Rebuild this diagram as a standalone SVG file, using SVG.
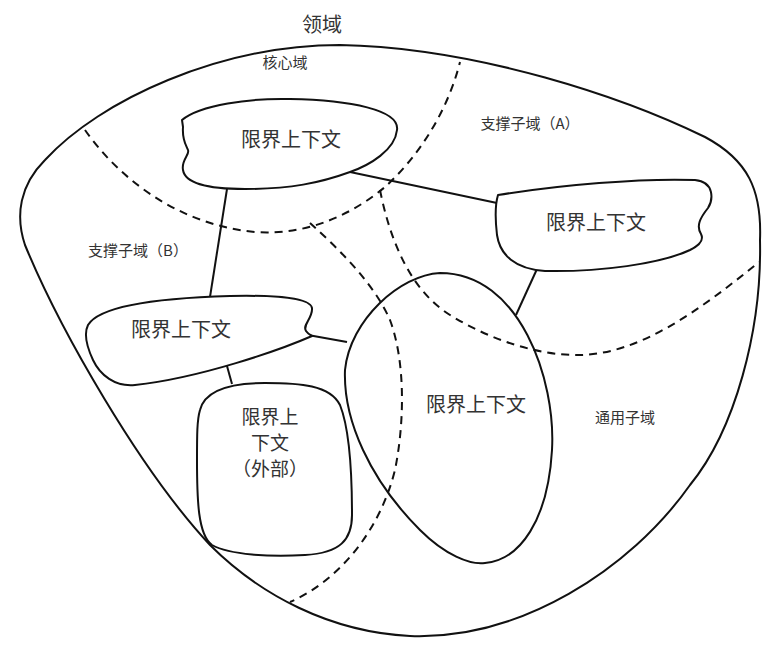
<svg xmlns="http://www.w3.org/2000/svg" width="782" height="654" viewBox="0 0 782 654">
<style>
.shape{fill:none;stroke:#111;stroke-width:2;stroke-linejoin:round}
.bc{fill:#fff;stroke:#111;stroke-width:2;stroke-linejoin:round}
.dash{fill:none;stroke:#111;stroke-width:2;stroke-dasharray:8 6}
.link{fill:none;stroke:#111;stroke-width:2}
.t{font-family:"Noto Sans CJK SC","Noto Sans",sans-serif;fill:#333;text-anchor:middle}
.big{font-size:20px}
.mid{font-size:19px}
.lbl{font-size:15px}
</style>
<rect width="782" height="654" fill="#fff"/>
<g id="domain">
<path class="shape" d="M 340,45 C 480,48 625,98 705,137 C 748,160 762,190 760,240 C 762,330 735,430 690,485 C 630,570 520,640 410,636 C 330,632 260,595 210,545 C 140,470 60,330 25,245 C 15,215 20,185 45,160 C 100,100 220,45 340,45 Z"/>
<text class="t big" x="322" y="32">领域</text>
</g>
<g id="subdomains">
<path class="dash" d="M 85,130 C 120,180 180,225 255,232 C 310,236 355,212 385,187 C 420,155 448,110 460,62"/>
<path class="dash" d="M 310,223 C 340,250 375,285 390,320 C 405,360 405,420 395,470 C 380,530 340,580 290,602"/>
<path class="dash" d="M 380,190 C 390,240 410,290 450,315 C 490,340 540,356 580,355 C 640,354 700,310 759,262"/>
<text class="t lbl" x="285" y="68">核心域</text>
<text class="t lbl" x="530" y="129">支撑子域（A）</text>
<text class="t lbl" x="138" y="256">支撑子域（B）</text>
<text class="t lbl" x="625" y="423">通用子域</text>
</g>
<g id="connectors">
<line class="link" x1="227" y1="189" x2="210" y2="297"/>
<line class="link" x1="350" y1="172" x2="497" y2="203"/>
<line class="link" x1="537" y1="269" x2="516" y2="315"/>
<line class="link" x1="308" y1="335" x2="347" y2="342"/>
<line class="link" x1="227" y1="366" x2="232" y2="384"/>
</g>
<g id="bc-core">
<path class="bc" d="M 182,120 C 200,105 250,98 290,99 C 350,100 400,110 397,130 C 395,150 370,165 350,172 C 320,183 290,189 245,189 C 205,189 185,183 183,170 C 181,160 190,155 188,150 C 186,145 182,140 183,127 Z"/>
<text class="t big" x="291" y="147">限界上下文</text>
</g>
<g id="bc-support-a">
<path class="bc" d="M 498,195 C 560,185 640,178 695,180 C 715,182 713,200 708,208 C 700,218 696,226 701,234 C 704,240 700,245 690,250 C 660,264 600,272 545,271 C 515,269 500,255 497,235 C 495,218 495,205 498,195 Z"/>
<text class="t big" x="596" y="230">限界上下文</text>
</g>
<g id="bc-support-b">
<path class="bc" d="M 88,325 C 100,305 160,298 230,296 C 280,295 310,298 312,308 C 313,318 302,325 306,331 C 308,334 312,336 312,336 C 280,350 200,378 135,385 C 115,387 100,375 93,360 C 86,345 84,333 88,325 Z"/>
<text class="t big" x="181" y="337">限界上下文</text>
</g>
<g id="bc-generic">
<path class="bc" style="fill:none" d="M 440,273 C 400,275 350,320 345,370 C 343,420 370,480 420,530 C 445,555 470,565 485,563 C 520,560 548,520 552,450 C 556,380 520,273 440,273 Z"/>
<text class="t big" x="476" y="412">限界上下文</text>
</g>
<g id="bc-external">
<path class="bc" d="M 200,410 C 205,390 230,383 265,383 C 300,383 330,385 340,405 C 350,430 352,480 352,515 C 352,540 340,553 305,555 C 270,557 230,555 212,545 C 198,535 197,500 197,460 C 197,435 197,420 200,410 Z"/>
<text class="t mid" x="270" y="424">限界上</text>
<text class="t mid" x="270" y="450">下文</text>
<text class="t mid" x="270" y="476">（外部）</text>
</g>
</svg>
